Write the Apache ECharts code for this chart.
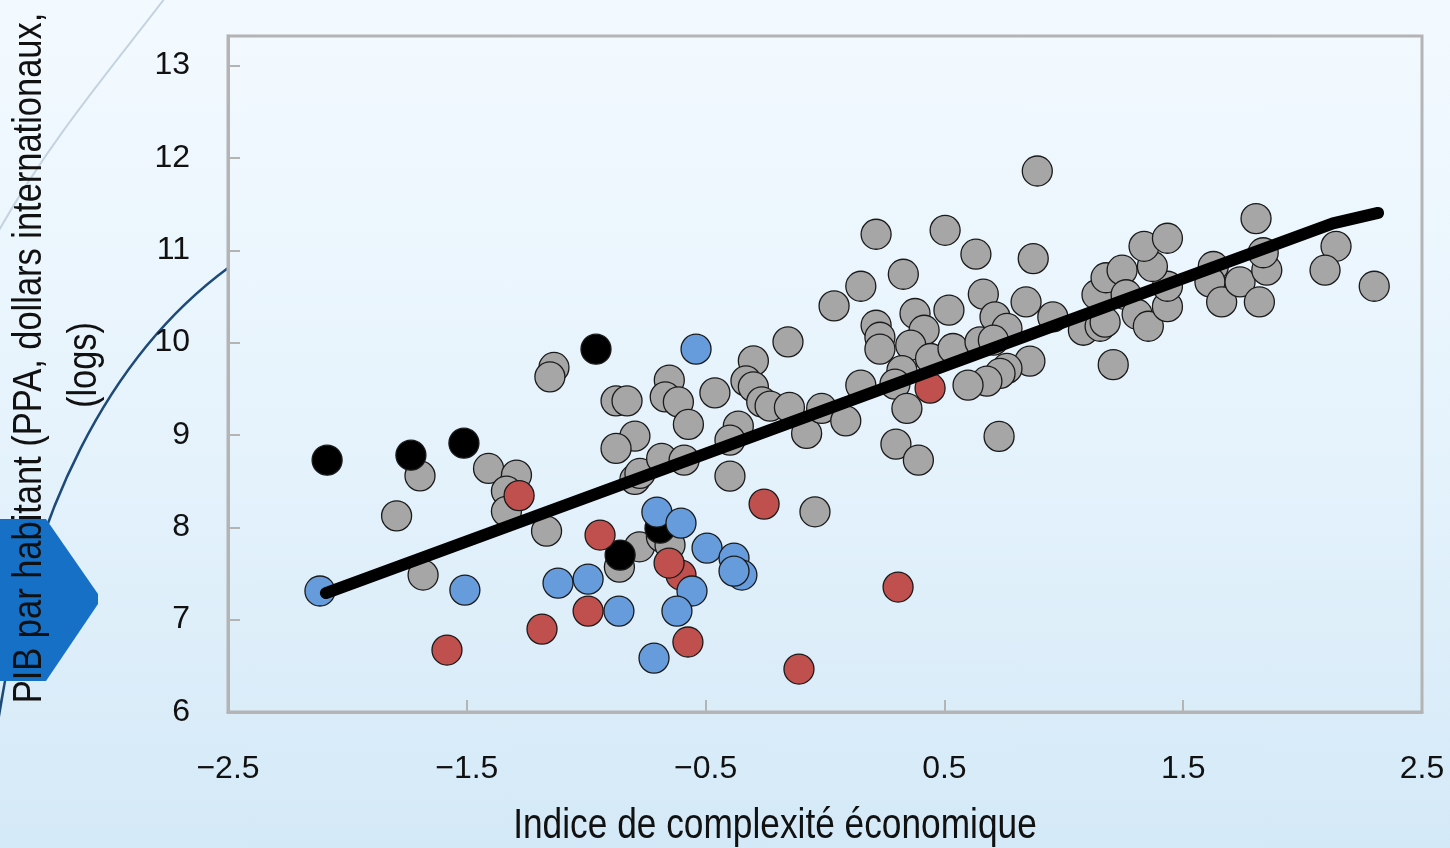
<!DOCTYPE html>
<html>
<head>
<meta charset="utf-8">
<script src="https://cdn.jsdelivr.net/npm/echarts@6/dist/echarts.min.js"></script>
<style>
html,body{margin:0;padding:0;width:1450px;height:848px;overflow:hidden;}
#chart{width:1450px;height:848px;background:linear-gradient(to bottom,#f3faff 0%,#e6f3fc 50%,#d4e9f7 100%);}
</style>
</head>
<body>
<div id="chart"></div>
<script>
// ---- data ----
const xTickValues = [-2.5, -1.5, -0.5, 0.5, 1.5, 2.5];
const yTickValues = [6, 7, 8, 9, 10, 11, 12, 13];
const xTitle = 'Indice de complexité économique';
const yTitleLines = ['PIB par habitant (PPA, dollars internationaux,', '(logs)'];

const grayPts = [
  [-1.794, 8.124], [-1.696, 8.557], [-1.683, 7.483], [-1.409, 8.637], [-1.292, 8.565],
  [-1.334, 8.392], [-1.334, 8.173], [-1.166, 7.959], [-1.135, 9.731], [-1.152, 9.629],
  [-0.875, 9.369], [-0.829, 9.369], [-0.796, 8.987], [-0.875, 8.854], [-0.796, 8.518],
  [-0.775, 8.583], [-0.777, 7.789], [-0.861, 7.569], [-0.685, 7.897], [-0.649, 7.807],
  [-0.652, 9.593], [-0.669, 9.412], [-0.614, 9.358], [-0.572, 9.114], [-0.461, 9.456],
  [-0.300, 9.802], [-0.331, 9.586], [-0.300, 9.521], [-0.265, 9.358], [-0.230, 9.312],
  [-0.149, 9.298], [-0.077, 9.016], [-0.014, 9.287], [-0.363, 9.095], [-0.398, 8.944],
  [-0.398, 8.554], [-0.684, 8.746], [-0.590, 8.727], [-0.042, 8.168], [-0.155, 10.008],
  [0.087, 9.153],
  [0.214, 11.173], [0.503, 11.216], [0.632, 10.957], [0.872, 10.910], [0.889, 11.858],
  [0.328, 10.740], [0.150, 10.610], [0.038, 10.397], [0.663, 10.524], [0.842, 10.440],
  [0.954, 10.278], [0.377, 10.315], [0.519, 10.351], [0.214, 10.188], [0.230, 10.058],
  [0.230, 9.929], [0.712, 10.278], [0.762, 10.153], [0.415, 10.134], [0.359, 9.972],
  [0.442, 9.828], [0.322, 9.696], [0.293, 9.550], [0.150, 9.539], [0.536, 9.936],
  [0.649, 10.008], [0.705, 10.026], [0.858, 9.799], [0.762, 9.720], [0.733, 9.666],
  [0.678, 9.582], [0.599, 9.539], [0.343, 9.287], [0.297, 8.900], [0.391, 8.727],
  [0.729, 8.984],
  [1.207, 9.761], [1.082, 10.134], [1.152, 10.177], [1.173, 10.221], [1.139, 10.518],
  [1.177, 10.702], [1.244, 10.784], [1.261, 10.518], [1.307, 10.307], [1.354, 10.177],
  [1.434, 10.389], [1.434, 10.610], [1.371, 10.824], [1.336, 11.043], [1.434, 11.130],
  [1.626, 10.824], [1.612, 10.657], [1.661, 10.440], [1.738, 10.657], [1.819, 10.440],
  [1.850, 10.784], [1.835, 10.973], [1.805, 11.343], [2.140, 11.043], [2.094, 10.784],
  [2.300, 10.610]
];
const blackPts = [
  [-2.085, 8.727], [-1.734, 8.781], [-1.512, 8.911], [-0.959, 9.929], [-0.858, 7.699], [-0.691, 7.991]
];
const redPts = [
  [-1.281, 8.343], [-1.583, 6.671], [-1.185, 6.898], [-0.992, 7.093], [-0.942, 7.916],
  [-0.603, 7.483], [-0.653, 7.613], [-0.574, 6.758], [-0.255, 8.251], [-0.109, 6.465],
  [0.306, 7.353], [0.440, 9.506]
];
const bluePts = [
  [-2.115, 7.310], [-1.508, 7.320], [-1.118, 7.396], [-0.992, 7.439], [-0.863, 7.093],
  [-0.716, 6.584], [-0.704, 8.165], [-0.603, 8.045], [-0.494, 7.775], [-0.381, 7.667],
  [-0.348, 7.483], [-0.381, 7.526], [-0.557, 7.310], [-0.620, 7.093], [-0.540, 9.929]
];
const trendPts = [
  [-2.090, 7.288], [2.127, 11.292], [2.316, 11.404]
];

// ---- chart ----
const chart = echarts.init(document.getElementById('chart'), null, {renderer: 'canvas'});
const fmt = v => String(v).replace('-', '\u2212');
const ptStyle = c => ({color: c, borderColor: '#1a1a1a', borderWidth: 1.3, opacity: 1});
const narrow = 0.84;

const option = {
  animation: false,
  backgroundColor: 'transparent',
  grid: {
    left: 228, right: 28, top: 36, bottom: 136,
    outerBoundsMode: 'none', containLabel: false,
    show: true, borderColor: '#b4b4b4', borderWidth: 3, backgroundColor: 'transparent'
  },
  xAxis: {
    type: 'value', min: -2.5, max: 2.5, interval: 1,
    axisLine: {show: true, onZero: false, lineStyle: {color: '#b4b4b4', width: 3}},
    axisTick: {show: true, inside: true, length: 12, lineStyle: {color: '#b4b4b4', width: 2}},
    axisLabel: {formatter: fmt, fontFamily: 'Liberation Sans, Arial, sans-serif', fontSize: 32, color: '#111', margin: 41},
    splitLine: {show: false}
  },
  yAxis: {
    type: 'value', min: 6, max: 13.32, interval: 1,
    axisLine: {show: true, onZero: false, lineStyle: {color: '#b4b4b4', width: 3}},
    axisTick: {show: true, inside: true, length: 12, lineStyle: {color: '#b4b4b4', width: 2}},
    axisLabel: {formatter: fmt, fontFamily: 'Liberation Sans, Arial, sans-serif', fontSize: 32, color: '#111', margin: 38, showMaxLabel: false, padding: [11, 0, 0, 0]},
    splitLine: {show: false}
  },
  graphic: [
    {type: 'bezierCurve', z: -5, silent: true,
     shape: {x1: 165, y1: -2, cpx1: 110, cpy1: 70, cpx2: 50, cpy2: 140, x2: -2, y2: 232},
     style: {stroke: '#c3d3df', lineWidth: 2, fill: null}},
    {type: 'bezierCurve', z: -5, silent: true,
     shape: {x1: 228, y1: 268, cpx1: 110, cpy1: 355, cpx2: 30, cpy2: 510, x2: -2, y2: 722},
     style: {stroke: '#1d4a78', lineWidth: 2.5, fill: null}},
    {type: 'polygon', z: -4, silent: true,
     shape: {points: [[0, 519], [46, 519], [98, 594], [98, 604], [46, 681], [0, 681]]},
     style: {fill: '#1570c6'}},
    {type: 'text', z: 20, silent: true, x: 775, y: 826, scaleX: narrow,
     style: {text: xTitle, fontFamily: 'Liberation Sans, Arial, sans-serif', fontSize: 42, fill: '#111', align: 'center', verticalAlign: 'middle'}},
    {type: 'text', z: 20, silent: true, x: 30, y: 358, rotation: Math.PI / 2, scaleX: narrow,
     style: {text: yTitleLines[0], fontFamily: 'Liberation Sans, Arial, sans-serif', fontSize: 41, fill: '#111', align: 'center', verticalAlign: 'middle'}},
    {type: 'text', z: 20, silent: true, x: 85, y: 365, rotation: Math.PI / 2, scaleX: narrow,
     style: {text: yTitleLines[1], fontFamily: 'Liberation Sans, Arial, sans-serif', fontSize: 41, fill: '#111', align: 'center', verticalAlign: 'middle'}}
  ],
  series: [
    {type: 'scatter', name: 'gris', data: grayPts, symbolSize: 30, itemStyle: ptStyle('#a6a6a6'), z: 2},
    {type: 'scatter', name: 'noir', data: blackPts, symbolSize: 30, itemStyle: ptStyle('#000000'), z: 3},
    {type: 'scatter', name: 'rouge', data: redPts, symbolSize: 30, itemStyle: ptStyle('#c0504d'), z: 4},
    {type: 'scatter', name: 'bleu', data: bluePts, symbolSize: 30, itemStyle: ptStyle('#679cdc'), z: 5},
    {type: 'line', name: 'tendance', data: trendPts, showSymbol: false, symbol: 'none', smooth: false,
     lineStyle: {color: '#000', width: 12, cap: 'round', join: 'round'}, z: 6}
  ]
};
chart.setOption(option);
</script>
</body>
</html>
